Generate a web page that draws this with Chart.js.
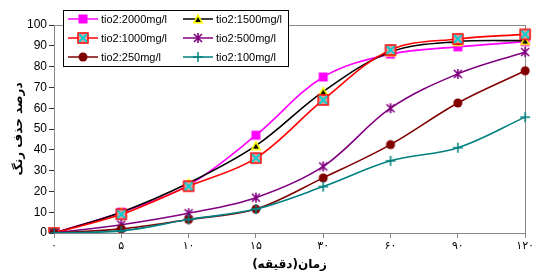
<!DOCTYPE html>
<html>
<head>
<meta charset="utf-8">
<script src="https://cdn.jsdelivr.net/npm/chart.js@4"></script>
<style>
  html, body { margin: 0; padding: 0; background: #fff; }
</style>
</head>
<body>
<canvas id="chart" width="536" height="273"></canvas>
<script>
// time labels (Persian digits) and removal percent per TiO2 dose
const times = ['۰', '۵', '۱۰', '۱۵', '۳۰', '۶۰', '۹۰', '۱۲۰'];
const tio2_2000 = [0, 10, 23, 47, 75, 86, 89.5, 92];
const tio2_1500 = [0, 10, 24, 42, 68, 87, 92, 92.5];
const tio2_1000 = [0, 9, 22.5, 36, 64, 88, 93.3, 95.5];
const tio2_500 = [0, 4, 9.5, 17, 32, 60, 76.5, 87];
const tio2_250 = [0, 2, 6.5, 11.5, 26.5, 42.5, 62.5, 78];
const tio2_100 = [0, 1, 6.5, 11.5, 22.3, 34.7, 41, 55.7];
const yTicks = [0, 100, 10];

function marker(draw) {
  const c = document.createElement('canvas');
  c.width = 14; c.height = 14;
  const g = c.getContext('2d');
  g.translate(7, 7);
  draw(g);
  return c;
}
const mkSquare = marker(g => { g.fillStyle = '#ff00ff'; g.fillRect(-4.5, -4.5, 9, 9); });
const mkTri = marker(g => {
  g.fillStyle = '#ffff00';
  g.beginPath(); g.moveTo(0, -5.5); g.lineTo(5.5, 4.5); g.lineTo(-5.5, 4.5); g.closePath(); g.fill();
  g.fillStyle = '#000';
  g.beginPath(); g.moveTo(0, -2); g.lineTo(2.8, 3); g.lineTo(-2.8, 3); g.closePath(); g.fill();
});
const mkBoxX = marker(g => {
  g.fillStyle = '#e8a0a0'; g.fillRect(-5, -5, 10, 10);
  g.strokeStyle = '#ff0000'; g.lineWidth = 1.5; g.strokeRect(-5, -5, 10, 10);
  g.strokeStyle = '#00d0d0'; g.lineWidth = 1.8;
  g.beginPath(); g.moveTo(-4, -4); g.lineTo(4, 4); g.moveTo(4, -4); g.lineTo(-4, 4); g.stroke();
});
const mkStar = marker(g => {
  g.strokeStyle = '#800080'; g.lineWidth = 1.6;
  g.beginPath();
  g.moveTo(-4, -4); g.lineTo(4, 4); g.moveTo(4, -4); g.lineTo(-4, 4);
  g.moveTo(0, -5); g.lineTo(0, 5);
  g.stroke();
});
const mkDot = marker(g => { g.fillStyle = '#800000'; g.beginPath(); g.arc(0, 0, 4.5, 0, Math.PI * 2); g.fill(); });
const mkPlus = marker(g => {
  g.strokeStyle = '#008080'; g.lineWidth = 1.5;
  g.beginPath(); g.moveTo(-5, 0); g.lineTo(5, 0); g.moveTo(0, -5); g.lineTo(0, 5); g.stroke();
});

// Excel order: 2000, 1500, 1000, 500, 250, 100 (later series on top)
const series = [
  { label: 'tio2:2000mg/l', data: tio2_2000, color: '#ff00ff', pt: mkSquare },
  { label: 'tio2:1500mg/l', data: tio2_1500, color: '#000000', pt: mkTri },
  { label: 'tio2:1000mg/l', data: tio2_1000, color: '#ff0000', pt: mkBoxX },
  { label: 'tio2:500mg/l', data: tio2_500, color: '#800080', pt: mkStar },
  { label: 'tio2:250mg/l', data: tio2_250, color: '#800000', pt: mkDot },
  { label: 'tio2:100mg/l', data: tio2_100, color: '#008080', pt: mkPlus },
];

const boxPlugin = {
  id: 'box',
  beforeDatasetsDraw(chart) {
    const a = chart.chartArea, ctx = chart.ctx;
    ctx.save();
    ctx.strokeStyle = '#888';
    ctx.lineWidth = 1;
    ctx.strokeRect(Math.round(a.left) + 0.5, Math.round(a.top) + 0.5, Math.round(a.right - a.left), Math.round(a.bottom - a.top));
    ctx.restore();
  },
  afterDraw(chart) {
    // legend box over the top-left of the plot, like the Excel one
    const ctx = chart.ctx;
    const x0 = 63, y0 = 10, w = 225, h = 56;
    ctx.save();
    ctx.fillStyle = '#fff';
    ctx.fillRect(x0, y0, w, h);
    ctx.strokeStyle = '#000';
    ctx.lineWidth = 1;
    ctx.strokeRect(x0 + 0.5, y0 + 0.5, w, h);
    ctx.font = '11px "Liberation Sans", Arial, sans-serif';
    ctx.textBaseline = 'middle';
    chart.data.datasets.forEach((ds, i) => {
      const col = i % 2, row = Math.floor(i / 2);
      const lx = col === 0 ? 68 : 183;
      const ly = 19 + row * 19;
      ctx.strokeStyle = ds.borderColor;
      ctx.lineWidth = 1.5;
      ctx.beginPath(); ctx.moveTo(lx, ly); ctx.lineTo(lx + 30, ly); ctx.stroke();
      ctx.drawImage(ds.pointStyle, lx + 15 - 7, ly - 7);
      ctx.fillStyle = '#000';
      ctx.fillText(ds.label, lx + 33, ly + 0.5);
    });
    ctx.restore();
  }
};

const ctx = document.getElementById('chart');
new Chart(ctx, {
  type: 'line',
  data: {
    labels: times,
    datasets: series.map((s, i) => ({
      label: s.label,
      data: s.data,
      borderColor: s.color,
      backgroundColor: s.color,
      borderWidth: 1.6,
      pointStyle: s.pt,
      pointRadius: 5,
      tension: 0.35,
      fill: false,
      order: series.length - i,
    })),
  },
  options: {
    responsive: false,
    animation: false,
    devicePixelRatio: 1,
    layout: { padding: { top: 25, right: 10, left: 0, bottom: 0 } },
    plugins: { legend: { display: false }, tooltip: { enabled: false } },
    scales: {
      x: {
        offset: false,
        afterFit: s => { s.height = 40; },
        grid: { drawOnChartArea: false, tickLength: 5, color: '#888' },
        border: { color: '#888' },
        ticks: { color: '#000', padding: 2, maxRotation: 0, font: { size: 11, family: '"DejaVu Sans", sans-serif' } },
        title: {
          display: true, text: 'زمان(دقیقه)', color: '#000',
          font: { size: 12, weight: 'bold', family: '"DejaVu Sans", sans-serif' },
          padding: { top: 0, bottom: 1 },
        },
      },
      y: {
        min: yTicks[0], max: yTicks[1],
        afterFit: s => { s.width = 54; },
        grid: { drawOnChartArea: false, tickLength: 5, color: '#333' },
        border: { color: '#333' },
        ticks: { stepSize: yTicks[2], color: '#000', padding: 2, font: { size: 12, family: '"Liberation Sans", Arial, sans-serif' } },
        title: {
          display: true, text: 'درصد حذف رنگ', color: '#000',
          font: { size: 12, weight: 'bold', family: '"DejaVu Sans", sans-serif' },
          padding: { top: 12, bottom: 0 },
        },
      },
    },
  },
  plugins: [boxPlugin],
});
</script>
</body>
</html>
